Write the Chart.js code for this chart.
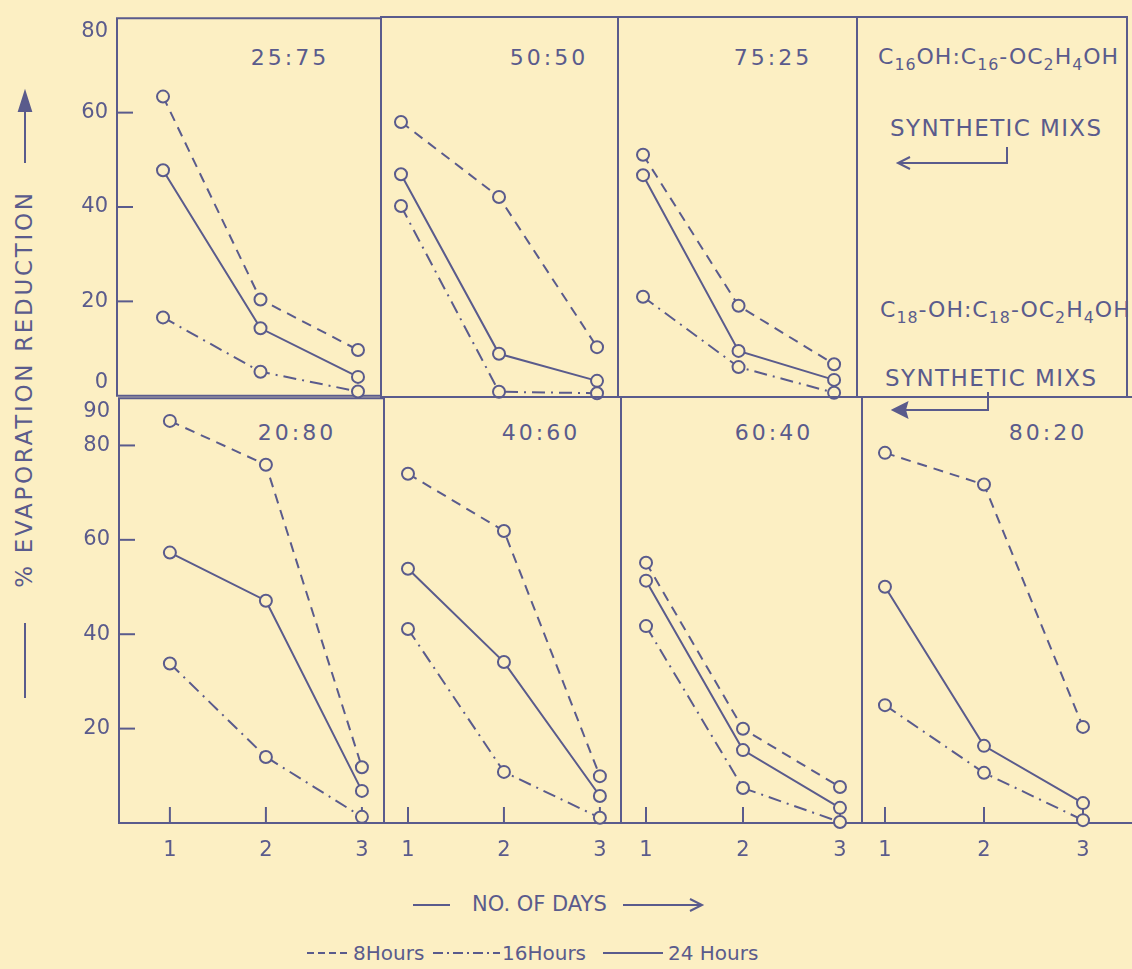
<!DOCTYPE html>
<html>
<head>
<meta charset="utf-8">
<script src="https://cdn.jsdelivr.net/npm/chart.js@4.4.0/dist/chart.umd.min.js"></script>
<style>
  html, body { margin: 0; padding: 0; overflow: hidden; background: #fcefc3; }
  #page { position: relative; width: 1132px; height: 969px; overflow: hidden; background: #fcefc3;
          font-family: "DejaVu Sans", sans-serif; color: #5a5b8c; }
  .txt { position: absolute; white-space: nowrap; line-height: 1; }
  .mix { font-size: 22px; letter-spacing: 3px; transform: translate(-50%, -50%); }
  .formula { font-size: 22px; letter-spacing: 1px; }
  .formula sub { font-size: 0.72em; vertical-align: -0.4em; }
  .synth { font-size: 23px; letter-spacing: 1.4px; }
  .box { position: absolute; }
  svg { position: absolute; left: 0; top: 0; }
</style>
</head>
<body>
<div id="page">
  <div class="txt mix" style="left:290px;top:58px">25:75</div>
  <div class="txt mix" style="left:549px;top:58px">50:50</div>
  <div class="txt mix" style="left:773px;top:58px">75:25</div>
  <div class="txt mix" style="left:297px;top:433px">20:80</div>
  <div class="txt mix" style="left:541px;top:433px">40:60</div>
  <div class="txt mix" style="left:774px;top:433px">60:40</div>
  <div class="txt mix" style="left:1048px;top:433px">80:20</div>

  <div style="position:absolute;left:856px;top:16px;width:270px;height:380px;border:2px solid #5a5b8c;border-bottom:none;border-left:none;"></div>
  <div class="txt formula" style="left:878px;top:46px">C<sub>16</sub>OH:C<sub>16</sub>-OC<sub>2</sub>H<sub>4</sub>OH</div>
  <div class="txt synth" style="left:890px;top:117px">SYNTHETIC MIXS</div>
  <div class="txt formula" style="left:880px;top:299px">C<sub>18</sub>-OH:C<sub>18</sub>-OC<sub>2</sub>H<sub>4</sub>OH</div>
  <div class="txt synth" style="left:885px;top:367px">SYNTHETIC MIXS</div>

  <div class="txt" style="left:24px;top:389px;font-size:23px;letter-spacing:2.7px;transform:translate(-50%,-50%) rotate(-90deg);">% EVAPORATION REDUCTION</div>
  <div class="txt" style="left:472px;top:894px;font-size:21px;">NO. OF DAYS</div>
  <div class="txt" style="left:353px;top:943px;font-size:20px;">8Hours</div>
  <div class="txt" style="left:502px;top:943px;font-size:20px;">16Hours</div>
  <div class="txt" style="left:668px;top:943px;font-size:20px;">24 Hours</div>

  <svg width="1132" height="969" stroke="#5a5b8c" stroke-width="2" fill="none">
    <path d="M1007 147 V163 H898 M910 157 L898 163 L910 169"/>
    <path d="M988 392 V410 H893"/>
    <path d="M893 410 L907 403 L905 410 L907 417 Z" fill="#5a5b8c"/>
    <path d="M25 623 V698"/>
    <path d="M25 163 V104"/>
    <path d="M25 92 L19 111 L31 111 Z" fill="#5a5b8c"/>
    <path d="M413 905 H450"/>
    <path d="M623 905 H702 M690 899 L702 905 L690 911"/>
    <path d="M307 953 H350" stroke-dasharray="7 4"/>
    <path d="M433 953 H500" stroke-dasharray="10 4 2 4"/>
    <path d="M603 953 H663"/>
  </svg>
</div>

<script>
const days = [1, 2, 3];
const mixes = ['25:75', '50:50', '75:25', '20:80', '40:60', '60:40', '80:20'];

// % evaporation reduction, one row per mix, values for day 1, 2, 3
const hours8 = [
  [63.4, 20.4, 9.7],
  [57.9, 42.1, 10.5],
  [51.0, 19.2, 6.9],
  [85.2, 75.9, 11.8],
  [73.8, 61.7, 9.9],
  [55.0, 19.9, 7.6],
  [78.2, 71.5, 20.3]
];
const hours16 = [
  [16.6, 5.1, 0.9],
  [40.2, 1.1, 0.8],
  [21.1, 6.3, 0.9],
  [33.8, 14.0, 1.3],
  [41.0, 10.8, 1.1],
  [41.6, 7.4, 0.2],
  [24.9, 10.6, 0.6]
];
const hours24 = [
  [47.8, 14.3, 4.0],
  [46.9, 9.1, 3.4],
  [46.7, 9.7, 3.6],
  [57.3, 47.1, 6.8],
  [53.7, 34.0, 5.7],
  [51.2, 15.4, 3.2],
  [49.9, 16.3, 4.2]
];

const topYTicks = [0, 20, 40, 60, 80];
const bottomYTicks = [20, 40, 60, 80, 90];

const INK = '#5a5b8c';
const PAPER = '#fcefc3';

// where each panel sits on the page and the day range it spans
const panels = [
  { l: 117, t: 17, r: 381, b: 397, xMin: 0.528, xMax: 3.236, row: 'top', yAxis: true, xAxis: false },
  { l: 381, t: 17, r: 618, b: 397, xMin: 0.796, xMax: 3.214, row: 'top', yAxis: false, xAxis: false },
  { l: 618, t: 17, r: 857, b: 397, xMin: 0.738, xMax: 3.24, row: 'top', yAxis: false, xAxis: false },
  { l: 119, t: 397, r: 384, b: 823, xMin: 0.47, xMax: 3.23, row: 'bottom', yAxis: true, xAxis: true },
  { l: 384, t: 397, r: 621, b: 823, xMin: 0.75, xMax: 3.22, row: 'bottom', yAxis: false, xAxis: true },
  { l: 621, t: 397, r: 862, b: 823, xMin: 0.742, xMax: 3.227, row: 'bottom', yAxis: false, xAxis: true },
  { l: 862, t: 397, r: 1134, b: 823, xMin: 0.768, xMax: 3.515, row: 'bottom', yAxis: false, xAxis: true }
];

const tickFont = { family: 'DejaVu Sans', size: 21, lineHeight: 1.25 };

// labels sitting on a panel edge are nudged off it, like the original lettering
function yLabel(v, row) {
  if (row === 'top' && v === 0) return ['0', ''];
  if (row === 'top' && v === 80) return ['', '80'];
  if (row === 'bottom' && v === 90) return ['', '90'];
  return String(v);
}

// box around the chart area plus short inward tick marks
const frame = {
  id: 'frame',
  beforeDatasetsDraw(chart) {
    const { ctx, chartArea: a, scales } = chart;
    ctx.save();
    ctx.strokeStyle = INK;
    ctx.lineWidth = 2;
    ctx.strokeRect(a.left, a.top, a.right - a.left, a.bottom - a.top);
    if (scales.y.options.display) {
      scales.y.ticks.forEach(t => {
        if (t.value <= scales.y.min || t.value >= scales.y.max) return;
        const y = scales.y.getPixelForValue(t.value);
        ctx.beginPath(); ctx.moveTo(a.left, y); ctx.lineTo(a.left + 16, y); ctx.stroke();
      });
    }
    if (scales.x.options.display) {
      scales.x.ticks.forEach(t => {
        const x = scales.x.getPixelForValue(t.value);
        ctx.beginPath(); ctx.moveTo(x, a.bottom); ctx.lineTo(x, a.bottom - 16); ctx.stroke();
      });
    }
    ctx.restore();
  }
};

function series(label, values, dash) {
  return {
    label,
    data: days.map((d, k) => ({ x: d, y: values[k] })),
    borderColor: INK,
    borderWidth: 2,
    borderDash: dash,
    pointRadius: 6,
    pointBorderWidth: 2,
    pointBorderColor: INK,
    pointBackgroundColor: PAPER,
    tension: 0,
    clip: false
  };
}

const page = document.getElementById('page');

panels.forEach((p, i) => {
  const padL = p.yAxis ? p.l : 12;
  const padT = 34, padR = 12;
  const padB = p.xAxis ? 50 : 34;
  const box = document.createElement('div');
  box.className = 'box';
  box.style.left = (p.l - padL) + 'px';
  box.style.top = (p.t - padT) + 'px';
  box.style.width = (p.r - p.l + padL + padR) + 'px';
  box.style.height = (p.b - p.t + padT + padB) + 'px';
  const cv = document.createElement('canvas');
  box.appendChild(cv);
  page.appendChild(box);

  const yTicks = p.row === 'top' ? topYTicks : bottomYTicks;

  new Chart(cv.getContext('2d'), {
    type: 'line',
    data: {
      datasets: [
        series('8 Hours', hours8[i], [10, 7]),
        series('16 Hours', hours16[i], [13, 6, 2, 6]),
        series('24 Hours', hours24[i], [])
      ]
    },
    options: {
      responsive: true,
      maintainAspectRatio: false,
      animation: false,
      layout: { padding: { left: p.yAxis ? 0 : padL, top: padT, right: padR, bottom: p.xAxis ? 0 : padB } },
      plugins: { legend: { display: false }, tooltip: { enabled: false }, title: { display: false } },
      scales: {
        x: {
          type: 'linear',
          min: p.xMin,
          max: p.xMax,
          display: p.xAxis,
          afterBuildTicks: s => { s.ticks = days.map(v => ({ value: v })); },
          afterFit: s => { if (p.xAxis) s.height = padB; },
          grid: { display: false, drawTicks: false },
          border: { display: false },
          ticks: { padding: 14, color: INK, font: tickFont, autoSkip: false, maxRotation: 0, callback: v => String(v) }
        },
        y: {
          min: 0,
          max: p.row === 'top' ? 80 : 90,
          display: p.yAxis,
          afterBuildTicks: s => { s.ticks = yTicks.map(v => ({ value: v })); },
          afterFit: s => { if (p.yAxis) s.width = padL; },
          grid: { display: false, drawTicks: false },
          border: { display: false },
          ticks: { padding: 9, color: INK, font: tickFont, autoSkip: false, callback: v => yLabel(v, p.row) }
        }
      }
    },
    plugins: [frame]
  });
});
</script>
</body>
</html>
